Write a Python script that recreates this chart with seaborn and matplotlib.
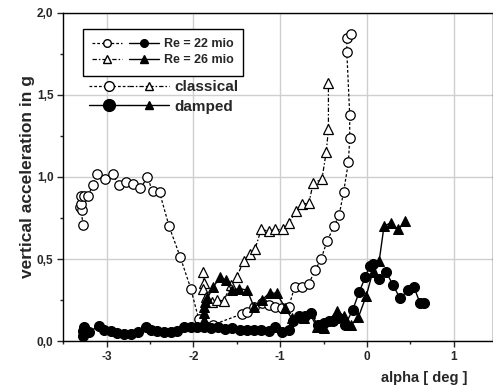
import numpy as np
import matplotlib
matplotlib.use("Agg")
import matplotlib.pyplot as plt
import seaborn as sns
from matplotlib.lines import Line2D
from matplotlib.legend_handler import HandlerTuple
from matplotlib.ticker import MultipleLocator, FuncFormatter

# --- data ---
# Re = 22 mio, classical (open circles)
c22_x = [-3.27, -3.30, -3.28, -3.29, -3.29, -3.26, -3.21, -3.16, -3.11, -3.02, -2.93, -2.86,
         -2.78, -2.70, -2.61, -2.53, -2.47, -2.39, -2.28, -2.15, -2.03, -1.94, -1.77,
         -1.44, -1.38, -1.30, -1.21, -1.13, -1.06, -0.98, -0.90, -0.835, -0.75, -0.67,
         -0.60, -0.53, -0.46, -0.38, -0.32, -0.27, -0.215, -0.20, -0.20, -0.233, -0.233, -0.19]
c22_y = [0.71, 0.82, 0.80, 0.835, 0.886, 0.884, 0.886, 0.95, 1.02, 0.985, 1.02, 0.95,
         0.97, 0.957, 0.93, 0.998, 0.915, 0.908, 0.70, 0.51, 0.32, 0.136, 0.10,
         0.165, 0.18, 0.21, 0.23, 0.22, 0.21, 0.20, 0.21, 0.33, 0.33, 0.35,
         0.43, 0.50, 0.61, 0.70, 0.77, 0.91, 1.09, 1.235, 1.38, 1.76, 1.85, 1.87]

# Re = 26 mio, classical (open triangles)
c26_x = [-1.89, -1.88, -1.89, -1.86, -1.79, -1.73, -1.65, -1.57, -1.50, -1.42, -1.35, -1.29,
         -1.22, -1.13, -1.06, -0.97, -0.90, -0.82, -0.75, -0.67, -0.62, -0.52, -0.47,
         -0.445, -0.445]
c26_y = [0.42, 0.355, 0.32, 0.27, 0.24, 0.25, 0.245, 0.34, 0.39, 0.49, 0.53, 0.56,
         0.68, 0.67, 0.68, 0.68, 0.72, 0.79, 0.835, 0.84, 0.965, 0.985, 1.155,
         1.29, 1.575]

# Re = 22 mio, damped (filled circles)
d22_x = [-3.27, -3.27, -3.26, -3.20, -3.09, -3.03, -2.95, -2.88, -2.80, -2.72, -2.64, -2.55,
         -2.49, -2.42, -2.34, -2.26, -2.19, -2.11, -2.03, -1.96, -1.88, -1.80, -1.72,
         -1.64, -1.55, -1.46, -1.38, -1.30, -1.22, -1.13, -1.06, -0.98, -0.90, -0.85,
         -0.78, -0.71, -0.65, -0.57, -0.50, -0.44, -0.39, -0.33, -0.25, -0.165, -0.09,
         -0.02, 0.03, 0.07, 0.14, 0.22, 0.30, 0.38, 0.47, 0.54, 0.61, 0.655]
d22_y = [0.03, 0.06, 0.085, 0.057, 0.09, 0.07, 0.063, 0.05, 0.04, 0.045, 0.057, 0.087,
         0.07, 0.063, 0.057, 0.055, 0.063, 0.083, 0.087, 0.087, 0.087, 0.08, 0.085,
         0.075, 0.08, 0.067, 0.067, 0.065, 0.065, 0.063, 0.087, 0.057, 0.067, 0.124,
         0.15, 0.15, 0.17, 0.10, 0.11, 0.12, 0.124, 0.14, 0.10, 0.19, 0.30,
         0.39, 0.46, 0.47, 0.38, 0.42, 0.34, 0.26, 0.31, 0.33, 0.23, 0.23]

# Re = 26 mio, damped (filled triangles)
d26_x = [-1.88, -1.88, -1.88, -1.88, -1.87, -1.84, -1.77, -1.69, -1.62, -1.56, -1.47, -1.38,
         -1.30, -1.21, -1.12, -1.04, -0.94, -0.87, -0.80, -0.73, -0.66, -0.58, -0.50,
         -0.35, -0.26, -0.18, -0.10, -0.01, 0.065, 0.14, 0.195, 0.27, 0.36, 0.44]
d26_y = [0.09, 0.13, 0.17, 0.21, 0.24, 0.26, 0.33, 0.39, 0.37, 0.31, 0.32, 0.31,
         0.205, 0.25, 0.295, 0.29, 0.20, 0.14, 0.145, 0.14, 0.17, 0.087, 0.077,
         0.185, 0.15, 0.10, 0.145, 0.275, 0.42, 0.49, 0.70, 0.72, 0.68, 0.73]

x_ticks = [-3, -2, -1, 0, 1]
y_ticks = [0.0, 0.5, 1.0, 1.5, 2.0]

sns.set_style("ticks")
plt.rcParams['font.family'] = ['Liberation Sans', 'DejaVu Sans']
plt.rcParams['font.weight'] = 'bold'

fig = plt.figure(figsize=(4.93, 3.92), dpi=100)
ax = fig.add_axes([0.128, 0.130, 0.872, 0.837])

ms = 6.8
dot_ls = (0, (2.2, 1.6))
dash_ls = (0, (3.5, 1.6, 1.2, 1.6))

sns.lineplot(x=c22_x, y=c22_y, ax=ax, sort=False, estimator=None, color='black',
             lw=0.9, linestyle=dot_ls, marker='o', markersize=ms,
             markerfacecolor='white', markeredgecolor='black', markeredgewidth=0.9)
sns.lineplot(x=c26_x, y=c26_y, ax=ax, sort=False, estimator=None, color='black',
             lw=0.9, linestyle=dash_ls, marker='^', markersize=ms,
             markerfacecolor='white', markeredgecolor='black', markeredgewidth=0.9)
sns.lineplot(x=d22_x, y=d22_y, ax=ax, sort=False, estimator=None, color='black',
             lw=1.0, linestyle='-', marker='o', markersize=ms + 0.4,
             markerfacecolor='black', markeredgecolor='black')
sns.lineplot(x=d26_x, y=d26_y, ax=ax, sort=False, estimator=None, color='black',
             lw=1.0, linestyle='-', marker='^', markersize=ms,
             markerfacecolor='black', markeredgecolor='black')

ax.set_xlim(-3.5, 1.45)
ax.set_ylim(0, 2.0)
ax.set_xticks(x_ticks)
ax.set_yticks(y_ticks)
ax.xaxis.set_minor_locator(MultipleLocator(0.5))
ax.yaxis.set_minor_locator(MultipleLocator(0.25))
ax.yaxis.set_major_formatter(FuncFormatter(lambda v, p: f"{v:.1f}".replace('.', ',')))
ax.xaxis.set_major_formatter(FuncFormatter(lambda v, p: f"{int(v)}"))
ax.grid(True, which='major', color='#cfcfcf', lw=1.0)
ax.set_axisbelow(True)
for s in ax.spines.values():
    s.set_color('black')
    s.set_linewidth(1.0)
ax.tick_params(which='major', direction='out', length=4, width=1, labelsize=8.5, pad=3)
ax.tick_params(which='minor', direction='out', length=2.5, width=1)
for lab in ax.get_xticklabels() + ax.get_yticklabels():
    lab.set_fontweight('bold')

ax.set_ylabel('vertical acceleration in g', fontsize=12.5, fontweight='bold', labelpad=1.5)
ax.set_xlabel('alpha [ deg ]', fontsize=10.5, fontweight='bold')
ax.xaxis.set_label_coords(0.84, -0.09)

# legend 1 (boxed)
h_c22 = Line2D([], [], color='black', lw=0.9, ls=dot_ls, marker='o', ms=5.5,
               mfc='white', mec='black')
h_d22 = Line2D([], [], color='black', lw=1.0, ls='-', marker='o', ms=5.5,
               mfc='black', mec='black')
h_c26 = Line2D([], [], color='black', lw=0.9, ls=dash_ls, marker='^', ms=5.5,
               mfc='white', mec='black')
h_d26 = Line2D([], [], color='black', lw=1.0, ls='-', marker='^', ms=5.5,
               mfc='black', mec='black')
leg1 = ax.legend([(h_c22, h_d22), (h_c26, h_d26)], ['Re = 22 mio', 'Re = 26 mio'],
                 handler_map={tuple: HandlerTuple(ndivide=None, pad=0.6)},
                 loc='upper left', bbox_to_anchor=(0.0465, 0.951), borderaxespad=0,
                 frameon=True, fancybox=False, edgecolor='black', framealpha=1,
                 prop={'weight': 'bold', 'size': 9}, handlelength=5.3,
                 handletextpad=0.45, borderpad=0.75, labelspacing=0.3)
leg1.get_frame().set_linewidth(1.0)
ax.add_artist(leg1)

# legend 2 (no frame)
h_cla1 = Line2D([], [], color='black', lw=0.9, ls=dot_ls, marker='o', ms=7,
                mfc='white', mec='black')
h_cla2 = Line2D([], [], color='black', lw=0.9, ls=dash_ls, marker='^', ms=6,
                mfc='white', mec='black')
h_dam1 = Line2D([], [], color='black', lw=1.0, ls='-', marker='o', ms=8.5,
                mfc='black', mec='black')
h_dam2 = Line2D([], [], color='black', lw=1.0, ls='-', marker='^', ms=6,
                mfc='black', mec='black')
leg2 = ax.legend([(h_cla1, h_cla2), (h_dam1, h_dam2)], ['classical', 'damped'],
                 handler_map={tuple: HandlerTuple(ndivide=None, pad=0)},
                 loc='upper left', bbox_to_anchor=(0.0605, 0.795), borderaxespad=0,
                 frameon=False, prop={'weight': 'bold', 'size': 11}, handlelength=5.2,
                 handletextpad=0.35, borderpad=0, labelspacing=0.35)

fig.savefig('out.png', dpi=100)
